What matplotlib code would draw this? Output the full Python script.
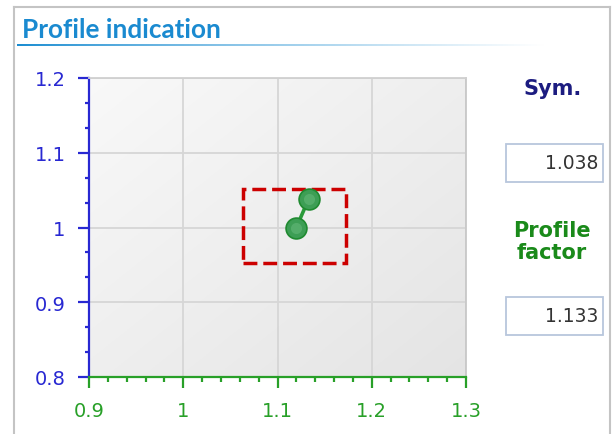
import numpy as np
import matplotlib
matplotlib.use("Agg")
import matplotlib.pyplot as plt
from matplotlib.lines import Line2D
from matplotlib.patches import Rectangle

# ---- data ----
title = "Profile indication"
point_x = [1.12, 1.133]
point_y = [1.0, 1.038]
rect_x = [1.063, 1.173]
rect_y = [0.953, 1.052]
x_ticks = [0.9, 1.0, 1.1, 1.2, 1.3]
x_tick_labels = ["0.9", "1", "1.1", "1.2", "1.3"]
y_ticks = [0.8, 0.9, 1.0, 1.1, 1.2]
y_tick_labels = ["0.8", "0.9", "1", "1.1", "1.2"]
sym_label = "Sym."
sym_value = "1.038"
pf_label = "Profile\nfactor"
pf_value = "1.133"

W, H = 613, 435
fig = plt.figure(figsize=(W / 100, H / 100), dpi=100)
fig.patch.set_facecolor("white")

def fx(px):
    return px / W

def fy(py):
    return 1 - py / H

# outer frame lines
fig.add_artist(Line2D([fx(14), fx(14)], [fy(8), fy(435)], color="#c4c4c4", lw=1.5, transform=fig.transFigure))
fig.add_artist(Line2D([fx(14), fx(610)], [fy(8), fy(8)], color="#c4c4c4", lw=1.5, transform=fig.transFigure))
fig.add_artist(Line2D([fx(610), fx(610)], [fy(8), fy(435)], color="#c4c4c4", lw=1.5, transform=fig.transFigure))

# title
fig.text(fx(22), fy(38), title, color="#1a8ad0", fontsize=18.8, fontweight="bold",
         family="Lato", ha="left", va="baseline")

# gradient underline
ul = fig.add_axes([fx(17), fy(47), fx(593), 2.5 / H])
grad = np.linspace(0, 1, 256)
c0 = np.array([0.10, 0.55, 0.82])
c1 = np.array([1.0, 1.0, 1.0])
img = np.zeros((1, 256, 3))
for i, t in enumerate(grad):
    tt = min(1, t ** 0.8 * 1.1)
    img[0, i] = c0 * (1 - tt) + c1 * tt
ul.imshow(img, aspect="auto", extent=[0, 1, 0, 1])
ul.axis("off")

# main axes
ax = fig.add_axes([fx(89), fy(378), fx(466) - fx(89), fy(79) - fy(378)])
ax.set_xlim(0.9, 1.3)
ax.set_ylim(0.8, 1.2)

# background gradient
gx, gy = np.meshgrid(np.linspace(0, 1, 200), np.linspace(0, 1, 200))
t = (gx + gy) / 2
bg = np.zeros((200, 200, 3))
top = np.array([0.975, 0.975, 0.975])
bot = np.array([0.895, 0.895, 0.895])
for k in range(3):
    bg[:, :, k] = top[k] * (1 - t) + bot[k] * t
ax.imshow(bg, extent=[0, 1, 0, 1], transform=ax.transAxes, aspect="auto", zorder=0)

ax.set_xticks(x_ticks)
ax.set_xticklabels(x_tick_labels)
ax.set_yticks(y_ticks)
ax.set_yticklabels(y_tick_labels)
ax.set_xticks(np.arange(0.9, 1.3001, 0.02), minor=True)
ax.set_yticks(np.arange(0.8, 1.2001, 0.1 / 3), minor=True)
ax.grid(True, which="major", color="#d6d6d6", lw=1.3, zorder=1)

blue = "#2828d2"
green = "#28a028"
ax.spines["left"].set_color(blue)
ax.spines["left"].set_linewidth(1.6)
ax.spines["bottom"].set_color(green)
ax.spines["bottom"].set_linewidth(1.6)
ax.spines["top"].set_color("#d0d0d0")
ax.spines["right"].set_color("#c8c8c8")
ax.spines["right"].set_linewidth(1.3)
ax.spines["top"].set_linewidth(1.3)
for s in ax.spines.values():
    s.set_zorder(5)

ax.tick_params(axis="y", which="major", length=8, width=1.6, color=blue, labelcolor=blue,
               labelsize=14, pad=9)
ax.tick_params(axis="y", which="minor", length=3, width=1.6, color=blue)
ax.tick_params(axis="x", which="major", length=8, width=1.6, color=green, labelcolor=green,
               labelsize=14, pad=9)
ax.tick_params(axis="x", which="minor", length=3.5, width=1.6, color=green)

# dashed rectangle
ax.add_patch(Rectangle((rect_x[0], rect_y[0]), rect_x[1] - rect_x[0], rect_y[1] - rect_y[0],
                       fill=False, edgecolor="#cc0000", lw=2.5, linestyle=(0, (4, 1.7)), zorder=3))

# points and connecting line
ax.plot(point_x, point_y, color="#2a9a3a", lw=2.6, zorder=4, solid_capstyle="round")
ax.plot(point_x, point_y, "o", ms=15, mfc="#3d9e55", mec="#1f8a30", mew=1.2, zorder=6)
ax.plot(point_x, point_y, "o", ms=8, mfc="#6cbc80", mec="none", alpha=0.5, zorder=7)

# right panel
fig.text(fx(553), fy(89), sym_label, color="#1c1c80", fontsize=15, fontweight="bold",
         ha="center", va="center")
fig.add_artist(Rectangle((fx(506), fy(183)), fx(97), 38 / H, transform=fig.transFigure,
                         fill=True, facecolor="white", edgecolor="#b8c6dc", lw=1.3))
fig.text(fx(598), fy(164), sym_value, color="#333333", fontsize=13.5, ha="right", va="center")

fig.text(fx(552), fy(242), pf_label, color="#1a8a1a", fontsize=15, fontweight="bold",
         ha="center", va="center", linespacing=1.15)
fig.add_artist(Rectangle((fx(506), fy(336)), fx(97), 38 / H, transform=fig.transFigure,
                         fill=True, facecolor="white", edgecolor="#b8c6dc", lw=1.3))
fig.text(fx(598), fy(317), pf_value, color="#333333", fontsize=13.5, ha="right", va="center")

fig.savefig("out.png", dpi=100, facecolor="white")
